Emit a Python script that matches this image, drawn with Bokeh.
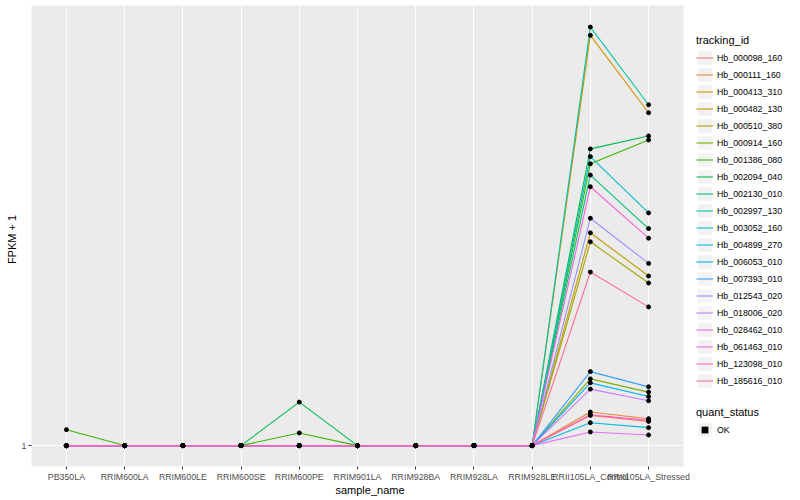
import math
from bokeh.plotting import figure
from bokeh.layouts import row, column
from bokeh.models import (Range1d, Legend, LegendItem, Label,
                          FixedTicker, ColumnDataSource)
from bokeh.embed import file_html
from bokeh.resources import INLINE

samples = ["PB350LA", "RRIM600LA", "RRIM600LE", "RRIM600SE", "RRIM600PE",
           "RRIM901LA", "RRIM928BA", "RRIM928LA", "RRIM928LE",
           "RRII105LA_Control", "RRII105LA_Stressed"]

tracking_ids = ["Hb_000098_160", "Hb_000111_160", "Hb_000413_310", "Hb_000482_130",
                "Hb_000510_380", "Hb_000914_160", "Hb_001386_080", "Hb_002094_040",
                "Hb_002130_010", "Hb_002997_130", "Hb_003052_160", "Hb_004899_270",
                "Hb_006053_010", "Hb_007393_010", "Hb_012543_020", "Hb_018006_020",
                "Hb_028462_010", "Hb_061463_010", "Hb_123098_010", "Hb_185616_010"]

colors = ["#F8766D", "#EA8331", "#D89000", "#C09B00", "#A3A500", "#7CAE00",
          "#39B600", "#00BB4E", "#00BF7D", "#00C1A3", "#00BFC4", "#00BAE0",
          "#00B0F6", "#35A2FF", "#9590FF", "#C77CFF", "#E76BF3", "#FA62DB",
          "#FF62BC", "#FF6C91"]

# FPKM + 1 per tracking_id (same order as tracking_ids)
pb350la = [1, 1, 1, 1, 1, 1, 161, 1, 1, 1, 1, 1, 1, 1, 1, 1, 1, 1, 1, 1]
rrim600pe = [1, 1, 1, 1, 1, 1, 128, 438, 1, 1, 1, 1, 1, 1, 1, 1, 1, 1, 1, 1]
rrii105la_control = [304, 338, 4121, 2138, 2048, 671, 2831, 2981, 2718, 4204,
                     2904, 231, 631, 744, 2284, 568, 138, 2601, 311, 1744]
rrii105la_stressed = [244, 271, 3344, 1704, 1634, 538, 3071, 3111, 2181, 3424,
                      2338, 181, 494, 591, 1831, 451, 108, 2084, 254, 1394]
other_samples = [1] * 20  # RRIM600LA, RRIM600LE, RRIM600SE, RRIM901LA, RRIM928BA/LA/LE

y_ticks = [1]
quant_status = ["OK"]

def series_values(i):
    return [pb350la[i], other_samples[i], other_samples[i], other_samples[i],
            rrim600pe[i], other_samples[i], other_samples[i], other_samples[i],
            other_samples[i], rrii105la_control[i], rrii105la_stressed[i]]

x_pos = list(range(len(samples)))
FONT = "Liberation Sans"


def bare(width, height):
    f = figure(width=width, height=height, x_range=Range1d(0, 1), y_range=Range1d(0, 1),
               x_axis_location=None, y_axis_location=None,
               output_backend="svg", toolbar_location=None,
               min_border_left=0, min_border_right=0,
               min_border_top=0, min_border_bottom=0)
    f.grid.visible = False
    f.outline_line_color = None
    f.background_fill_color = "white"
    f.border_fill_color = "white"
    return f

# ---------------- main plot ----------------
PH = 484
YW = 18
p = figure(width=690 - YW, height=PH,
           x_range=Range1d(-0.6, len(samples) - 0.4),
           y_range=Range1d(-209, 4421),
           output_backend="svg", toolbar_location=None,
           min_border_left=30 - YW, min_border_right=7,
           min_border_top=5, min_border_bottom=16)

p.background_fill_color = "#EBEBEB"
p.border_fill_color = "white"
p.outline_line_color = None

p.xaxis.ticker = FixedTicker(ticks=x_pos)
p.xgrid.ticker = FixedTicker(ticks=x_pos)
p.xaxis.major_label_overrides = {i: s for i, s in zip(x_pos, samples)}
p.yaxis.ticker = FixedTicker(ticks=y_ticks)
p.ygrid.ticker = FixedTicker(ticks=y_ticks)
p.yaxis.major_label_overrides = {t: str(t) for t in y_ticks}

p.xgrid.grid_line_color = "white"
p.xgrid.grid_line_width = 1.1
p.ygrid.grid_line_color = "white"
p.ygrid.grid_line_width = 1.1

for ax in (p.xaxis[0], p.yaxis[0]):
    ax.axis_line_color = None
    ax.major_tick_line_color = "#333333"
    ax.major_tick_out = 3
    ax.major_tick_in = 0
    ax.minor_tick_line_color = None
    ax.major_label_text_color = "#4D4D4D"
    ax.major_label_text_font = FONT
    ax.major_label_text_font_size = "8.8px"
    ax.major_label_standoff = 2

sources = [ColumnDataSource(dict(x=x_pos, y=series_values(i)))
           for i in range(len(tracking_ids))]

draw_order = [i for i in range(len(tracking_ids)) if i != 18] + [18]
for i in draw_order:
    p.line("x", "y", source=sources[i], line_color=colors[i], line_width=1.1)

all_x, all_y = [], []
for i in range(len(tracking_ids)):
    all_x += x_pos
    all_y += series_values(i)
p.scatter(all_x, all_y, size=4, marker="circle", fill_color="black",
          line_color="black")

# ---------------- axis titles ----------------
ytitle = bare(YW, PH)
ytitle.add_layout(Label(x=11.5, y=PH - 239, x_units="screen", y_units="screen",
                        text="FPKM + 1", text_font=FONT, text_font_size="11px",
                        angle=math.pi / 2, text_align="center",
                        text_baseline="middle", text_color="black"))

XH = 15
xtitle = bare(690 - YW, XH)
xtitle.add_layout(Label(x=356.5 - YW, y=XH - 5.5, x_units="screen", y_units="screen",
                        text="sample_name", text_font=FONT, text_font_size="11px",
                        text_align="center", text_baseline="middle",
                        text_color="black"))

# ---------------- legends ----------------
LH = 496
lf = figure(width=102, height=LH, x_range=Range1d(-1, 0), y_range=Range1d(-3, -2),
            x_axis_location=None, y_axis_location=None,
            output_backend="svg", toolbar_location=None,
            min_border_left=0, min_border_right=0,
            min_border_top=0, min_border_bottom=0)
lf.grid.visible = False
lf.outline_line_color = None
lf.background_fill_color = "white"
lf.border_fill_color = "white"

key_bg = lf.rect(x=[x_pos[0]], y=[y_ticks[0]], width=0, height=0,
                 fill_color="#F2F2F2", line_color=None)
leg_lines = [lf.line("x", "y", source=sources[i], line_color=colors[i], line_width=1.1)
             for i in range(len(tracking_ids))]
ok_key = lf.scatter(x=[x_pos[0]], y=[y_ticks[0]], size=0, marker="square",
                    fill_color="black", line_color=None)

items = [LegendItem(label=tid, renderers=[key_bg, leg_lines[i]])
         for i, tid in enumerate(tracking_ids)]
leg1 = Legend(items=items, title="tracking_id", location=(6, LH - 389))
leg2 = Legend(items=[LegendItem(label=quant_status[0], renderers=[key_bg, ok_key])],
              title="quant_status", location=(6, LH - 438))
for lg in (leg1, leg2):
    lg.padding = 0
    lg.margin = 0
    lg.spacing = 0
    lg.border_line_color = None
    lg.background_fill_alpha = 0
    lg.glyph_width = 17
    lg.glyph_height = 17
    lg.label_height = 17
    lg.label_standoff = 4
    lg.label_text_font = FONT
    lg.label_text_font_size = "8.8px"
    lg.label_text_color = "black"
    lg.title_text_font = FONT
    lg.title_text_font_size = "11px"
    lg.title_text_font_style = "normal"
    lg.title_text_color = "black"
    lg.title_standoff = 3
    lf.add_layout(lg, "center")

layout = row(ytitle, column(p, xtitle), lf)
open("out.html", "w").write(file_html(layout, INLINE))
